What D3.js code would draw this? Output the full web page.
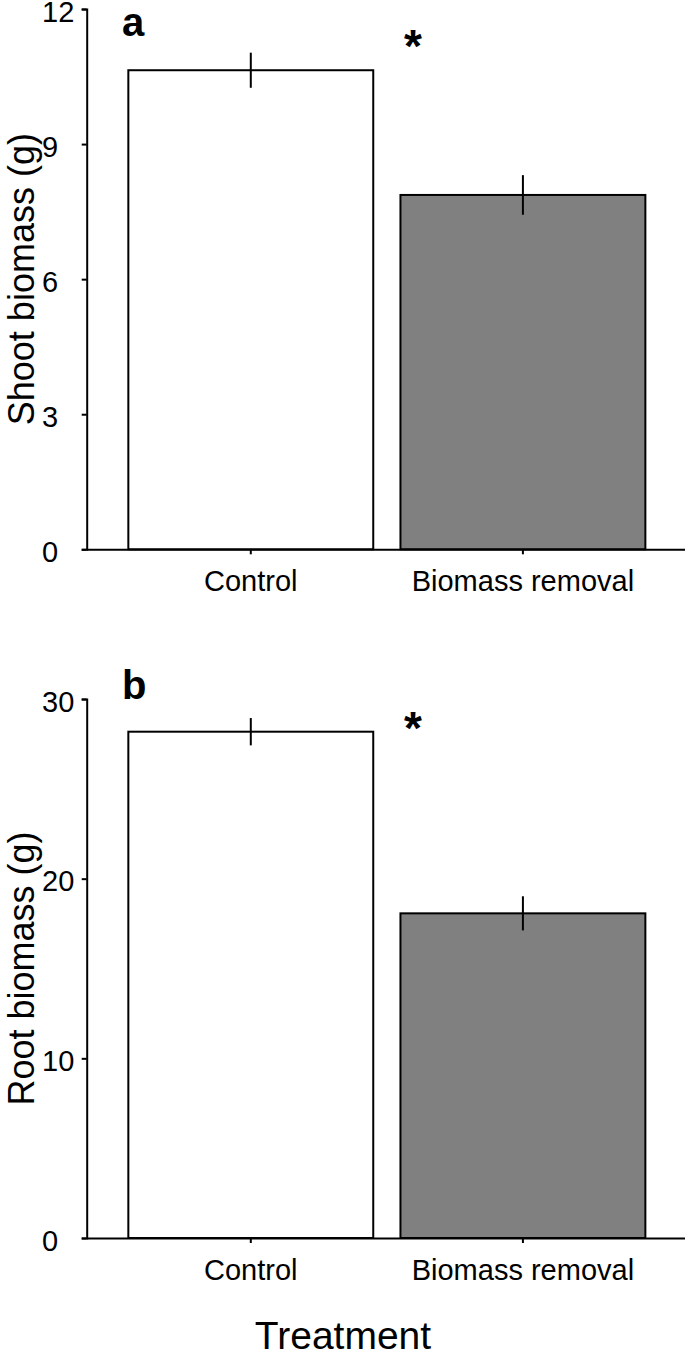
<!DOCTYPE html>
<html>
<head>
<meta charset="utf-8">
<script src="https://cdn.jsdelivr.net/npm/d3@7"></script>
<style>
  body { margin: 0; background: #fff; }
  svg { display: block; font-family: "Liberation Sans", Arial, sans-serif; }
  .axis path, .axis line { stroke: #000; stroke-width: 2; }
</style>
</head>
<body>
<svg width="685" height="1356"></svg>
<script>
const treatments = ["Control", "Biomass removal"];
const shootMean = [10.64, 7.87];
const shootSE = [0.39, 0.44];
const rootMean = [28.18, 18.07];
const rootSE = [0.76, 0.95];
const shootTicks = [0, 3, 6, 9, 12];
const rootTicks = [0, 10, 20, 30];
const barFills = ["#ffffff", "#808080"];

const svg = d3.select("svg");
const axisX = 86.7;

const x = d3.scaleBand()
  .domain(treatments)
  .range([axisX, 687])
  .paddingInner(0.1)
  .paddingOuter(0.153);

function drawPanel(opts) {
  const y = d3.scaleLinear().domain([0, opts.max]).range([opts.bottom, opts.top]);
  const g = svg.append("g");

  // bars
  g.selectAll("rect.bar")
    .data(treatments)
    .join("rect")
    .classed("bar", true)
    .attr("x", d => x(d))
    .attr("width", x.bandwidth())
    .attr("y", (d, i) => y(opts.mean[i]))
    .attr("height", (d, i) => y(0) - y(opts.mean[i]))
    .attr("fill", (d, i) => barFills[i])
    .attr("stroke", "#000")
    .attr("stroke-width", 2);

  // error bars
  g.selectAll("line.err")
    .data(treatments)
    .join("line")
    .classed("err", true)
    .attr("x1", d => x(d) + x.bandwidth() / 2)
    .attr("x2", d => x(d) + x.bandwidth() / 2)
    .attr("y1", (d, i) => y(opts.mean[i] + opts.se[i]))
    .attr("y2", (d, i) => y(opts.mean[i] - opts.se[i]))
    .attr("stroke", "#000")
    .attr("stroke-width", 2);

  // y axis
  const ya = g.append("g")
    .attr("class", "axis")
    .attr("transform", `translate(${axisX},0)`)
    .call(d3.axisLeft(y).tickValues(opts.ticks).tickSize(5).tickSizeOuter(5).tickFormat(d3.format("d")));
  ya.selectAll("text")
    .attr("text-anchor", "start")
    .attr("x", 42 - axisX)
    .attr("dy", "0.42em")
    .attr("font-size", 29)
    .attr("fill", "#000");

  // x axis
  const xa = g.append("g")
    .attr("class", "axis")
    .attr("transform", `translate(0,${y(0)})`)
    .call(d3.axisBottom(x).tickSize(5).tickSizeOuter(0));
  xa.selectAll("text")
    .attr("y", 42)
    .attr("dy", 0)
    .attr("font-size", 29)
    .attr("fill", "#000");

  // y title
  g.append("text")
    .attr("transform", `translate(34,${(y(0) + y(opts.max)) / 2}) rotate(-90)`)
    .attr("text-anchor", "middle")
    .attr("font-size", 36)
    .text(opts.title);

  // panel letter
  g.append("text")
    .attr("x", 122)
    .attr("y", opts.top + opts.letterDy)
    .attr("font-size", 40)
    .attr("font-weight", "bold")
    .text(opts.letter);

  // significance star
  g.append("text")
    .attr("x", 413)
    .attr("y", opts.starY)
    .attr("text-anchor", "middle")
    .attr("font-size", 46)
    .attr("font-weight", "bold")
    .text("*");
}

drawPanel({
  mean: shootMean, se: shootSE, ticks: shootTicks, max: 12,
  top: 9, bottom: 549.3, title: "Shoot biomass (g)", letter: "a",
  letterDy: 27, starY: 62
});

drawPanel({
  mean: rootMean, se: rootSE, ticks: rootTicks, max: 30,
  top: 699, bottom: 1238, title: "Root biomass (g)", letter: "b",
  letterDy: 0, starY: 744
});

svg.append("text")
  .attr("x", 343)
  .attr("y", 1349)
  .attr("text-anchor", "middle")
  .attr("font-size", 39)
  .text("Treatment");
</script>
</body>
</html>
